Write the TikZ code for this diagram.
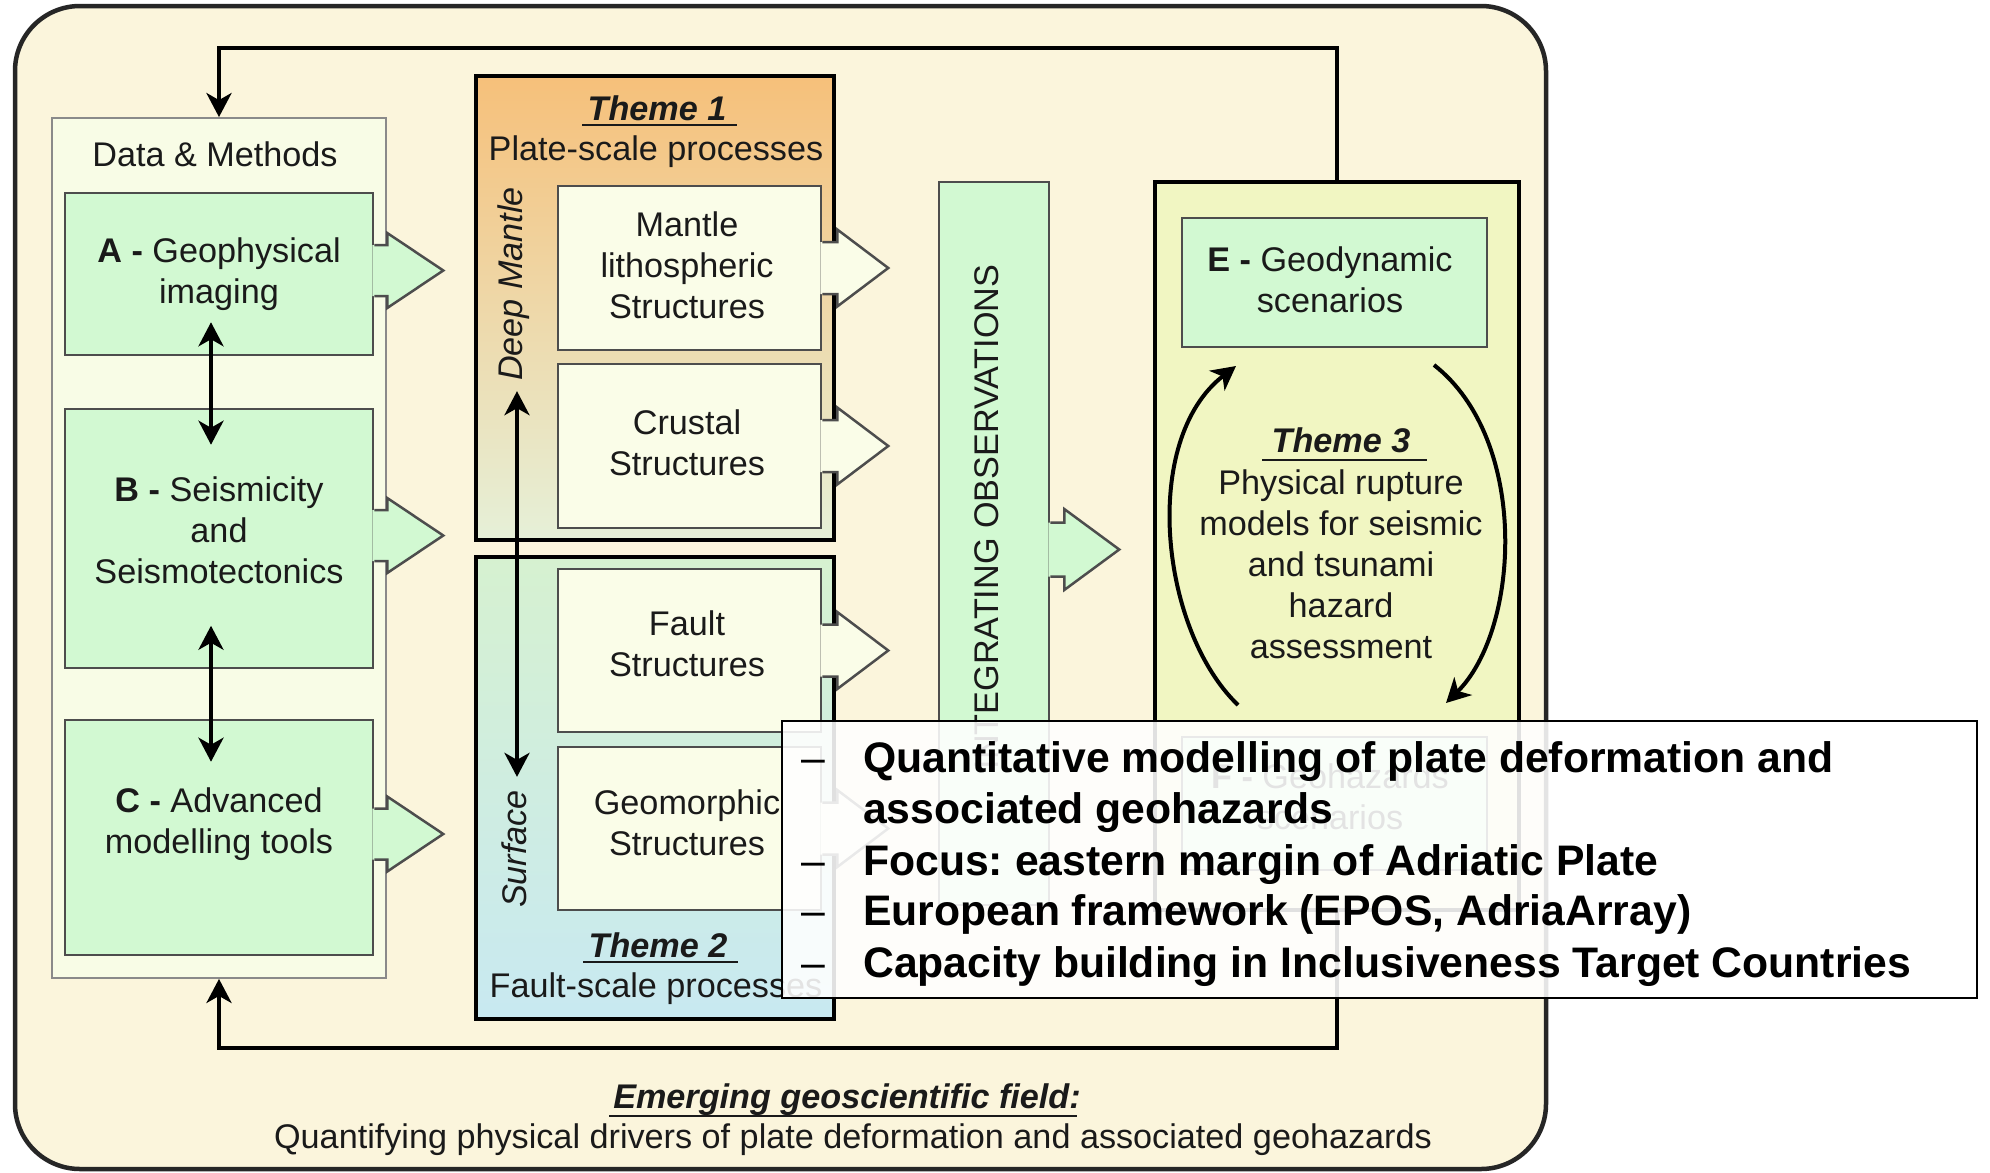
\documentclass[tikz,border=0pt]{standalone}
\usepackage{fontspec}
\setmainfont{Liberation Sans}
\usetikzlibrary{calc,arrows.meta}
\frenchspacing

\definecolor{cream}{HTML}{FBF5DC}
\definecolor{frame}{HTML}{262626}
\definecolor{panelfill}{HTML}{F8FCE6}
\definecolor{panelgray}{HTML}{8A8A8A}
\definecolor{boxgreen}{HTML}{D2F9D2}
\definecolor{structfill}{HTML}{FAFDE8}
\definecolor{thmthree}{HTML}{F1F6C2}
\definecolor{orangetop}{HTML}{F6C07A}
\definecolor{orangebot}{HTML}{E6F0D8}
\definecolor{greentop}{HTML}{D6F1D0}
\definecolor{bluebot}{HTML}{C8E9F1}
\definecolor{edgegray}{HTML}{4D4D4D}
\definecolor{txt}{HTML}{1A1A1A}

\tikzset{
  lbl/.style={font=\fontsize{34.2}{41}\selectfont, align=center, inner sep=0pt, text=txt},
  ttl/.style={font=\fontsize{34.2}{41}\selectfont\bfseries\itshape, inner sep=0pt, anchor=base, text=txt},
  ulin/.style={line width=2.6pt, draw=txt},
  greenbox/.style={draw=edgegray, line width=2.5pt, fill=boxgreen, inner sep=0pt},
  structbox/.style={draw=edgegray, line width=2.5pt, fill=structfill, inner sep=0pt, minimum width=263pt, minimum height=164pt},
  themebox/.style={draw=black, line width=4pt, inner sep=0pt, minimum width=358pt},
  conn/.style={line width=4.5pt, draw=black},
  dbl/.style={<->, line width=4pt},
  cyc/.style={->, line width=4pt},
  ovtext/.style={font=\fontsize{42.7}{51}\selectfont\bfseries, anchor=base west, inner sep=0pt, text=black},
  ovdash/.style={font=\fontsize{42.7}{51}\selectfont, anchor=base west, inner sep=0pt, text=black},
}

% block arrow: #1 base coordinate, #2 fill, #3 shaft length, #4 head length, #5 shaft half width, #6 head half height
\newcommand{\blockarr}[6]{%
  \fill[#2] ($(#1)+(-2,-#5)$) -- ($(#1)+(#3,-#5)$) -- ($(#1)+(#3,-#6)$) -- ($(#1)+(#3+#4,0)$) -- ($(#1)+(#3,#6)$) -- ($(#1)+(#3,#5)$) -- ($(#1)+(-2,#5)$) -- cycle;
  \draw[draw=edgegray, line width=2.5pt, line join=miter] ($(#1)+(0,-#5)$) -- ($(#1)+(#3,-#5)$) -- ($(#1)+(#3,-#6)$) -- ($(#1)+(#3+#4,0)$) -- ($(#1)+(#3,#6)$) -- ($(#1)+(#3,#5)$) -- ($(#1)+(0,#5)$);
}

\begin{document}
\begin{tikzpicture}[x=1pt,y=-1pt,>={Stealth[length=24pt,width=25pt,inset=7pt]}]
\path[use as bounding box, fill=white] (0,0) rectangle (1990,1173);
\draw[line width=4.5pt, draw=frame, fill=cream, rounded corners=65pt] (15,6) rectangle (1546,1169);

% ---------- Data & Methods ----------
\node[draw=panelgray, line width=1.8pt, fill=panelfill, minimum width=334pt, minimum height=860pt, inner sep=0pt] (dm) at (219,548) {};
\node[lbl] (dmt) at (215,154) {Data \& Methods};

\node[greenbox, minimum width=308pt, minimum height=162pt] (A) at (219,274) {};
\node[greenbox, minimum width=308pt, minimum height=259pt] (B) at (219,538.5) {};
\node[greenbox, minimum width=308pt, minimum height=235pt] (C) at (219,837.5) {};
\coordinate (Aa) at ($(A.east)+(0,-3.5)$);
\coordinate (Ba) at ($(B.east)+(0,-3)$);
\coordinate (Ca) at ($(C.east)+(0,-3.5)$);
\blockarr{Aa}{boxgreen}{13}{56}{25.5}{37.5}
\blockarr{Ba}{boxgreen}{13}{56}{25.5}{37.5}
\blockarr{Ca}{boxgreen}{13}{56}{25.5}{37.5}
\node[lbl] (At) at (219,274) {\textbf{A -} Geophysical\\imaging};
\node[lbl] (Bt) at (219,530) {\textbf{B -} Seismicity\\and\\Seismotectonics};
\node[lbl] (Ct) at (219,824) {\textbf{C -} Advanced\\modelling tools};

% ---------- Themes 1 and 2 ----------
\node[themebox, minimum height=464pt, top color=orangetop, bottom color=orangebot] (T1) at (655,308) {};
\node[themebox, minimum height=462pt, top color=greentop, bottom color=bluebot] (T2) at (655,788) {};

\node[structbox] (M1) at (689.5,268) {};
\node[structbox] (C1) at (689.5,446) {};
\node[structbox, minimum height=163pt] (F2) at (689.5,650.5) {};
\node[structbox, minimum height=163pt] (G2) at (689.5,828.5) {};
\blockarr{M1.east}{structfill}{15}{51}{26}{38.5}
\blockarr{C1.east}{structfill}{15}{51}{26}{38.5}
\blockarr{F2.east}{structfill}{15}{51}{26}{38.5}
\blockarr{G2.east}{structfill}{15}{51}{26}{38.5}
\node[lbl] (M1t) at (687,265) {Mantle\\lithospheric\\Structures};
\node[lbl] (C1t) at (687,443) {Crustal\\Structures};
\node[lbl] (F2t) at (687,643.5) {Fault\\Structures};
\node[lbl] (G2t) at (687,822.5) {Geomorphic\\Structures};

\node[ttl] (th1) at (657,120) {Theme 1};
\draw[ulin] ($(th1.base west)+(-5,5)$) -- ($(th1.base east)+(10,5)$);
\node[lbl, anchor=base] (p1) at (656,160) {Plate-scale processes};
\node[ttl] (th2) at (658,957) {Theme 2};
\draw[ulin] ($(th2.base west)+(-5,5)$) -- ($(th2.base east)+(10,5)$);
\node[lbl, anchor=base] (p2) at (656,997) {Fault-scale processes};

\node[lbl, font=\fontsize{34.2}{41}\selectfont\itshape, rotate=90] (deep) at (514,284) {Deep Mantle};
\node[lbl, font=\fontsize{34.2}{41}\selectfont\itshape, rotate=90] (surf) at (514,849) {Surface};
\draw[dbl] ($(deep.west)+(3,10)$) -- ($(surf.east)+(3,-13)$);

% ---------- Integrating observations ----------
\node[greenbox, minimum width=110pt, minimum height=723pt] (IO) at (994,543.5) {};
\coordinate (IOa) at ($(IO.east)+(0,6)$);
\blockarr{IOa}{boxgreen}{14}{55}{27}{40.5}
\node[lbl, rotate=90] (IOt) at (987,517) {INTEGRATING OBSERVATIONS};

% ---------- Theme 3 ----------
\node[themebox, minimum width=364pt, minimum height=728pt, fill=thmthree] (T3) at (1337,546) {};
\node[greenbox, minimum width=305pt, minimum height=129pt] (E) at (1334.5,282.5) {};
\node[lbl] (Et) at (1330,280) {\textbf{E -} Geodynamic\\scenarios};
\node[greenbox, minimum width=305pt, minimum height=133pt] (F) at (1334.5,803.5) {};
\node[lbl] (Ft) at (1330,797) {\textbf{F -} Geohazards\\scenarios};
\node[ttl] (th3) at (1341,452) {Theme 3};
\draw[ulin] ($(th3.base west)+(-9,8)$) -- ($(th3.base east)+(16,8)$);
\node[lbl] (T3t) at (1341,564.5) {Physical rupture\\models for seismic\\and tsunami\\hazard\\assessment};

\coordinate (cl0) at (1238,705);
\coordinate (cl1) at (1236,366);
\draw[cyc] (cl0) .. controls (1160,630) and (1140,440) .. (cl1);
\coordinate (cr0) at (1434,365);
\coordinate (cr1) at (1446,703);
\draw[cyc] (cr0) .. controls (1530,440) and (1520,630) .. (cr1);

% ---------- feedback loops ----------
\coordinate (topR) at (1337,48);
\coordinate (topL) at (219,48);
\draw[conn, ->] (T3.north) -- (topR) -- (topL) -- (dm.north);
\coordinate (botR) at (1337,1048);
\coordinate (botL) at (219,1048);
\draw[conn, ->] (T3.south) -- (botR) -- (botL) -- (dm.south);

\draw[dbl] ($(A.south)+(-8,-34)$) -- ($(B.north)+(-8,37)$);
\draw[dbl] ($(B.south)+(-8,-43.5)$) -- ($(C.north)+(-8,43)$);

% ---------- bottom caption ----------
\node[ttl] (em) at (847,1108) {Emerging geoscientific field:};
\draw[ulin] ($(em.base west)+(-4,8)$) -- ($(em.base east)+(-4,8)$);
\node[lbl, anchor=base] (cap) at (853,1148) {Quantifying physical drivers of plate deformation and associated geohazards};

% ---------- overlay ----------
\node[draw=black, line width=2pt, fill=white, fill opacity=0.88, minimum width=1195pt, minimum height=277pt, inner sep=0pt] (ov) at (1379.5,859.5) {};
\node[ovdash] (d1) at (801,772) {\textendash};
\node[ovtext] (o1) at (863,772) {Quantitative modelling of plate deformation and};
\node[ovtext] (o2) at (863,823) {associated geohazards};
\node[ovdash] (d3) at (801,875) {\textendash};
\node[ovtext] (o3) at (863,875) {Focus: eastern margin of Adriatic Plate};
\node[ovdash] (d4) at (801,925) {\textendash};
\node[ovtext] (o4) at (863,925) {European framework (EPOS, AdriaArray)};
\node[ovdash] (d5) at (801,977) {\textendash};
\node[ovtext] (o5) at (863,977) {Capacity building in Inclusiveness Target Countries};
\end{tikzpicture}
\end{document}
